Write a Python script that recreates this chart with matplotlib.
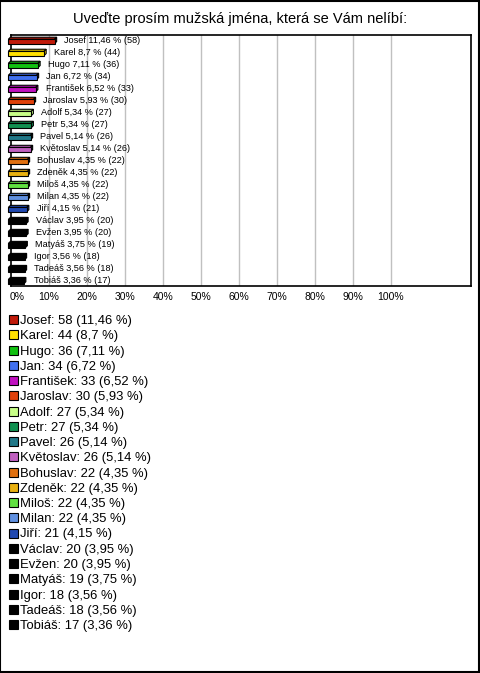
import matplotlib
matplotlib.use("Agg")
import matplotlib.pyplot as plt
from matplotlib.patches import Polygon, Rectangle

plt.rcParams['font.family'] = ['Liberation Sans', 'DejaVu Sans']

names = ['Josef', 'Karel', 'Hugo', 'Jan', 'František', 'Jaroslav', 'Adolf', 'Petr',
         'Pavel', 'Květoslav', 'Bohuslav', 'Zdeněk', 'Miloš', 'Milan', 'Jiří',
         'Václav', 'Evžen', 'Matyáš', 'Igor', 'Tadeáš', 'Tobiáš']
counts = [58, 44, 36, 34, 33, 30, 27, 27, 26, 26, 22, 22, 22, 22, 21,
          20, 20, 19, 18, 18, 17]
pcts = [11.46, 8.7, 7.11, 6.72, 6.52, 5.93, 5.34, 5.34, 5.14, 5.14, 4.35, 4.35,
        4.35, 4.35, 4.15, 3.95, 3.95, 3.75, 3.56, 3.56, 3.36]
colors = ['#c01a0a', '#ffe000', '#10c010', '#4070f0', '#c010c0', '#e0400a',
          '#c8ff88', '#109050', '#207888', '#c060c0', '#e07010', '#e8b010',
          '#60e040', '#6090e0', '#2048b0'] + ['#000000'] * 6
ticks = [0, 10, 20, 30, 40, 50, 60, 70, 80, 90, 100]

W, H = 480, 673
fig = plt.figure(figsize=(W / 100, H / 100), dpi=100)

def fx(px):
    return px / W

def fy(py):
    return 1 - py / H

# outer frame
fig.patches.append(Rectangle((0.001, 0.001), 0.996, 0.997, transform=fig.transFigure,
                             fill=False, edgecolor='black', linewidth=1.5))

fig.text(fx(240), fy(19), 'Uveďte prosím mužská jména, která se Vám nelíbí:',
         ha='center', va='center', fontsize=10.5)

ax = fig.add_axes([fx(11), fy(286), fx(460), 251 / H])
n = len(names)
ax.set_xlim(0, 121)
ax.set_ylim(n - 0.55, -0.45)
for t in ticks[1:]:
    ax.axvline(t, color='#c0c0c0', linewidth=1, zorder=0)
for s in ax.spines.values():
    s.set_color('black')
    s.set_linewidth(1.2)
ax.set_xticks([])
ax.set_yticks([])

h = 0.36      # front face height
dx = 0.55     # depth offset in %
dy = 0.17     # depth offset in rows
x0 = -0.7
for i, (name, p, c) in enumerate(zip(names, pcts, colors)):
    top, bot = i - h / 2 + dy / 2, i + h / 2 + dy / 2
    x1 = p
    kw = dict(facecolor=c, edgecolor='black', linewidth=0.8, clip_on=False, zorder=3)
    ax.add_patch(Polygon([(x0, top), (x0 + dx, top - dy), (x1 + dx, top - dy), (x1, top)], **kw))
    ax.add_patch(Polygon([(x1, top), (x1 + dx, top - dy), (x1 + dx, bot - dy), (x1, bot)], **kw))
    ax.add_patch(Rectangle((x0, top), x1 - x0, bot - top, **kw))
    lbl = f"{name} {p:g} % ({counts[i]})".replace('.', ',')
    ax.text(p + 2.6, i, lbl, ha='left', va='center', fontsize=6.6, zorder=4)

for t in ticks:
    xp = 11 + t * 3.8
    if t == 0:
        xp = 17
    fig.text(fx(xp), fy(297), f"{t}%", ha='center', va='center', fontsize=7.5)

# legend
for i, (name, p, c) in enumerate(zip(names, pcts, colors)):
    yc = 321 + i * 15.25
    fig.patches.append(Rectangle((fx(8.5), fy(yc + 3)), fx(9), 9 / H,
                                 transform=fig.transFigure, facecolor=c,
                                 edgecolor='black', linewidth=0.8))
    lbl = f"{name}: {counts[i]} ({p:g} %)".replace('.', ',')
    fig.text(fx(20), fy(yc), lbl, ha='left', va='center', fontsize=9.4)

fig.savefig('out.png', dpi=100)
